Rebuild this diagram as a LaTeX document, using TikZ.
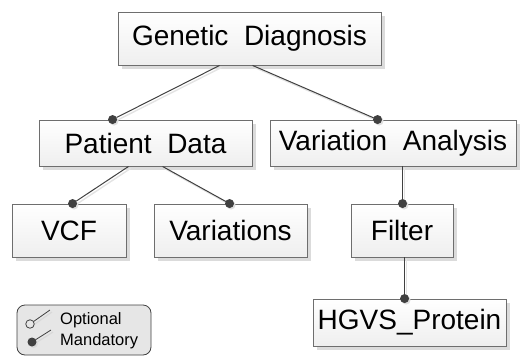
\documentclass[tikz,border=0pt]{standalone}
\usepackage{fontspec}
\setmainfont{Liberation Sans}
\usetikzlibrary{shadows}
\definecolor{edgegray}{HTML}{404040}
\definecolor{boxborder}{HTML}{6E6E6E}
\definecolor{legendfill}{HTML}{E6E6E6}
\tikzset{
  feat/.style={draw=boxborder, line width=0.9pt, top color=white, bottom color=gray!13,
    general shadow={fill=gray!28, shadow xshift=3.5pt, shadow yshift=-3.5pt},
    inner sep=0pt, anchor=center, font=\fontsize{28}{30}\selectfont},
  conn/.style={draw=edgegray, line width=1pt},
  connshadow/.style={draw=gray!22, line width=1.4pt},
  dot/.style={circle, fill=edgegray, inner sep=0pt, minimum size=9pt},
}
\begin{document}
\begin{tikzpicture}[x=1pt,y=-1pt]
\useasboundingbox (0,0) rectangle (521,356);
% feature boxes
\node[feat, minimum width=263pt, minimum height=53pt] (gd) at (249.5,38.5) {Genetic\ \ Diagnosis};
\node[feat, minimum width=213pt, minimum height=46pt] (pd) at (145.5,143) {Patient\ \ Data};
\node[feat, minimum width=246pt, minimum height=46pt] (va) at (393,143) {Variation\ \ Analysis};
\node[feat, minimum width=114pt, minimum height=53pt] (vcf) at (69,230.5) {VCF};
\node[feat, minimum width=153pt, minimum height=53pt] (var) at (230.5,230.5) {Variations};
\node[feat, minimum width=102pt, minimum height=53pt] (fil) at (402,230.5) {Filter};
\node[feat, minimum width=193pt, minimum height=47pt] (hg) at (409.5,322.5) {HGVS\_Protein};
% connector end points
\coordinate (gdA) at ([xshift=102pt]gd.south west);
\coordinate (gdB) at ([xshift=135pt]gd.south west);
\coordinate (pdA) at ([xshift=90pt]pd.south west);
\coordinate (pdB) at ([xshift=124pt]pd.south west);
\coordinate (vaA) at ([xshift=133pt]va.south west);
\coordinate (filA) at ([xshift=54pt]fil.south west);
\coordinate (pdT) at ([xshift=74pt]pd.north west);
\coordinate (vaT) at ([xshift=108pt]va.north west);
\coordinate (vcfT) at ([xshift=61pt]vcf.north west);
\coordinate (varT) at ([xshift=76pt]var.north west);
\coordinate (filT) at ([xshift=52pt]fil.north west);
\coordinate (hgT) at ([xshift=92pt]hg.north west);
% connector shadows
\begin{scope}[transform canvas={xshift=2pt,yshift=-2pt}]
\draw[connshadow] (gdA) -- (pdT);
\draw[connshadow] (gdB) -- (vaT);
\draw[connshadow] (pdA) -- (vcfT);
\draw[connshadow] (pdB) -- (varT);
\draw[connshadow] (vaA) -- (filT);
\draw[connshadow] (filA) -- (hgT);
\end{scope}
% connectors
\draw[conn] (gdA) -- (pdT);
\draw[conn] (gdB) -- (vaT);
\draw[conn] (pdA) -- (vcfT);
\draw[conn] (pdB) -- (varT);
\draw[conn] (vaA) -- (filT);
\draw[conn] (filA) -- (hgT);
% mandatory dots
\foreach \p in {pdT,vaT,vcfT,varT,filT,hgT}{
  \fill[gray!25] ([xshift=1.5pt,yshift=-1.5pt]\p) circle (4.5pt);
  \node[dot] at (\p) {};
}
% legend
\node[draw=edgegray, fill=legendfill, rounded corners=8pt, line width=0.8pt,
  minimum width=134pt, minimum height=50pt, inner sep=0pt] (leg) at (84,330) {};
\coordinate (optC) at (30,324);
\coordinate (optE) at (50,310);
\coordinate (manC) at (32,342);
\coordinate (manE) at (51,330);
\draw[gray!30, line width=1.2pt] ([xshift=2pt,yshift=-2pt]optC) -- ([xshift=2pt,yshift=-2pt]optE);
\draw[gray!30, line width=1.2pt] ([xshift=2pt,yshift=-2pt]manC) -- ([xshift=2pt,yshift=-2pt]manE);
\draw[conn, line width=0.8pt] (optC) -- (optE);
\draw[conn, line width=0.8pt] (manC) -- (manE);
\fill[gray!30] ([xshift=1.5pt,yshift=-1.5pt]manC) circle (4.5pt);
\node[circle, draw=edgegray, fill=legendfill, line width=0.8pt, inner sep=0pt, minimum size=8.5pt] (optDot) at (optC) {};
\node[dot] (manDot) at (manC) {};
\node[anchor=west, inner sep=0pt, font=\fontsize{16.5}{18}\selectfont] (optT) at (60,320) {Optional};
\node[anchor=west, inner sep=0pt, font=\fontsize{16.5}{18}\selectfont] (manT) at (60,341) {Mandatory};
\end{tikzpicture}
\end{document}
